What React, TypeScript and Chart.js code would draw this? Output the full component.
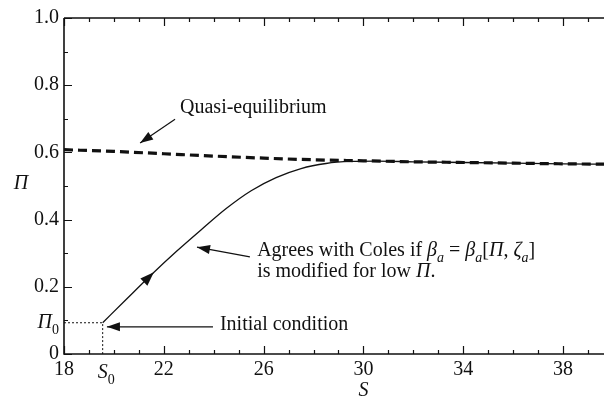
import React, { useEffect, useRef } from "react";
import { Chart, registerables } from "chart.js";

Chart.register(...registerables);

// ---- data ----
const quasiS = [18, 20, 22, 24, 26, 28, 30, 32, 34, 36, 38, 39.64];
const quasiPi = [0.608, 0.603, 0.596, 0.589, 0.583, 0.578, 0.575, 0.572, 0.57, 0.568, 0.566, 0.565];

const devS = [19.55, 20.5, 21.5, 22.5, 23.5, 24.5, 25.5, 26.5, 27.5, 28.5, 29.5, 30.5, 32, 34, 36, 38, 39.64];
const devPi = [0.093, 0.163, 0.236, 0.305, 0.37, 0.433, 0.486, 0.525, 0.552, 0.567, 0.573, 0.574, 0.572, 0.57, 0.568, 0.566, 0.565];

const S0 = 19.55;
const PI0 = 0.093;

const xTickValues = [18, 19, 20, 21, 22, 23, 24, 25, 26, 27, 28, 29, 30, 31, 32, 33, 34, 35, 36, 37, 38, 39];
const xTickLabels = ["18", "22", "26", "30", "34", "38"];
const yTickValues = [0, 0.1, 0.2, 0.3, 0.4, 0.5, 0.6, 0.7, 0.8, 0.9, 1.0];
const yTickLabels = ["0", "0.2", "0.4", "0.6", "0.8", "1.0"];

const X_MIN = 18;
const X_MAX = 39.64;

const SERIF = '"Liberation Serif", "Times New Roman", serif';
const INK = "#111";

type Part = [string, string];

function drawRich(ctx: CanvasRenderingContext2D, x: number, y: number, parts: Part[], size: number, align: "left" | "right" = "left") {
  const sub = Math.round(size * 0.72);
  const fontFor = (st: string) => {
    const it = st.includes("i") ? "italic " : "";
    const sz = st.includes("s") ? sub : size;
    return `${it}${sz}px ${SERIF}`;
  };
  let total = 0;
  for (const [t, st] of parts) {
    ctx.font = fontFor(st);
    total += ctx.measureText(t).width;
  }
  let cx = align === "left" ? x : x - total;
  ctx.textAlign = "left";
  ctx.textBaseline = "alphabetic";
  for (const [t, st] of parts) {
    ctx.font = fontFor(st);
    const dy = st.includes("s") ? size * 0.3 : 0;
    ctx.fillText(t, cx, y + dy);
    cx += ctx.measureText(t).width;
  }
}

function arrowHead(ctx: CanvasRenderingContext2D, tx: number, ty: number, fx: number, fy: number, len = 13, half = 4.5) {
  const a = Math.atan2(ty - fy, tx - fx);
  ctx.beginPath();
  ctx.moveTo(tx, ty);
  ctx.lineTo(tx - len * Math.cos(a) + half * Math.sin(a), ty - len * Math.sin(a) - half * Math.cos(a));
  ctx.lineTo(tx - len * Math.cos(a) - half * Math.sin(a), ty - len * Math.sin(a) + half * Math.cos(a));
  ctx.closePath();
  ctx.fill();
}

function arrow(ctx: CanvasRenderingContext2D, x1: number, y1: number, x2: number, y2: number) {
  ctx.beginPath();
  ctx.moveTo(x1, y1);
  ctx.lineTo(x2, y2);
  ctx.lineWidth = 1.2;
  ctx.stroke();
  arrowHead(ctx, x2, y2, x1, y1);
}

const overlay = {
  id: "overlay",
  afterDatasetsDraw(chart: any) {
    const ctx: CanvasRenderingContext2D = chart.ctx;
    const xs = chart.scales.x;
    const ys = chart.scales.y;
    const ca = chart.chartArea;
    const X = (v: number) => xs.getPixelForValue(v);
    const Y = (v: number) => ys.getPixelForValue(v);
    ctx.save();
    ctx.strokeStyle = INK;
    ctx.fillStyle = INK;
    // axis lines
    ctx.lineWidth = 1.6;
    ctx.beginPath();
    ctx.moveTo(ca.left, ca.top);
    ctx.lineTo(ca.left, ca.bottom);
    ctx.lineTo(ca.right, ca.bottom);
    ctx.moveTo(ca.left, ca.top);
    ctx.lineTo(ca.right, ca.top);
    ctx.stroke();
    // ticks
    ctx.lineWidth = 1.2;
    ctx.beginPath();
    xs.ticks.forEach((t: any) => {
      const px = Math.round(X(t.value)) + 0.5;
      const major = Math.abs((t.value - 18) % 4) < 1e-6;
      const len = major ? 8 : 4;
      ctx.moveTo(px, ca.bottom);
      ctx.lineTo(px, ca.bottom - len);
      ctx.moveTo(px, ca.top);
      ctx.lineTo(px, ca.top + len);
    });
    ys.ticks.forEach((t: any, i: number) => {
      const py = Math.round(Y(t.value)) + 0.5;
      const len = i % 2 === 0 ? 8 : 4;
      ctx.moveTo(ca.left, py);
      ctx.lineTo(ca.left + len, py);
    });
    ctx.stroke();

    // curve direction arrowhead
    const tipS = 21.6;
    const tipPi = 0.243;
    arrowHead(ctx, X(tipS), Y(tipPi), X(S0), Y(PI0), 14, 5);

    // annotation arrows
    arrow(ctx, X(22.45), Y(0.699), X(21.05), Y(0.628));
    arrow(ctx, X(25.45), Y(0.289), X(23.33), Y(0.318));
    arrow(ctx, X(23.97), Y(0.081), X(19.72), Y(0.081));

    // annotation text
    const fs = 20;
    drawRich(ctx, X(22.65), Y(0.735) + 6, [["Quasi-equilibrium", "n"]], fs);
    drawRich(
      ctx,
      X(25.74),
      Y(0.31) + 6,
      [
        ["Agrees with Coles if ", "n"],
        ["β", "i"],
        ["a", "si"],
        [" = ", "n"],
        ["β", "i"],
        ["a", "si"],
        ["[", "n"],
        ["Π", "i"],
        [", ", "n"],
        ["ζ", "i"],
        ["a", "si"],
        ["]", "n"],
      ],
      fs
    );
    drawRich(ctx, X(25.74), Y(0.247) + 6, [["is modified for low ", "n"], ["Π", "i"], [".", "n"]], fs);
    drawRich(ctx, X(24.25), Y(0.089) + 6, [["Initial condition", "n"]], fs);

    // special tick labels
    drawRich(ctx, ca.left - 5, Y(PI0) + 5, [["Π", "i"], ["0", "s"]], fs, "right");
    drawRich(ctx, X(S0) - 5, ca.bottom + 24, [["S", "i"], ["0", "s"]], fs);

    // axis titles
    ctx.font = `italic ${fs}px ${SERIF}`;
    ctx.textAlign = "center";
    ctx.textBaseline = "middle";
    ctx.fillText("Π", 21, Y(0.506));
    ctx.fillText("S", X(30), 391);
    ctx.restore();
  },
};

export default function App() {
  const ref = useRef<HTMLCanvasElement>(null);
  useEffect(() => {
    if (!ref.current) return;
    const chart = new Chart(ref.current, {
      type: "line",
      data: {
        datasets: [
          {
            label: "Quasi-equilibrium",
            data: quasiS.map((s, i) => ({ x: s, y: quasiPi[i] })),
            borderColor: INK,
            borderWidth: 3.2,
            borderDash: [9, 5],
            pointRadius: 0,
            cubicInterpolationMode: "monotone",
            fill: false,
          },
          {
            label: "Development",
            data: devS.map((s, i) => ({ x: s, y: devPi[i] })),
            borderColor: INK,
            borderWidth: 1.3,
            pointRadius: 0,
            cubicInterpolationMode: "monotone",
            fill: false,
          },
          {
            label: "Initial",
            data: [
              { x: X_MIN, y: PI0 },
              { x: S0, y: PI0 },
              { x: S0, y: 0 },
            ],
            borderColor: INK,
            borderWidth: 1,
            borderDash: [2, 2],
            pointRadius: 0,
            tension: 0,
            fill: false,
          },
        ],
      },
      options: {
        animation: false,
        responsive: false,
        events: [],
        layout: { padding: { top: 18, left: 0, right: 0, bottom: 0 } },
        plugins: { legend: { display: false }, tooltip: { enabled: false }, title: { display: false } },
        scales: {
          x: {
            type: "linear",
            min: X_MIN,
            max: X_MAX,
            afterBuildTicks: (s: any) => {
              s.ticks = xTickValues.map((v) => ({ value: v }));
            },
            afterFit: (s: any) => {
              s.height = 48;
            },
            grid: { display: false, drawTicks: false },
            border: { display: false },
            ticks: {
              autoSkip: false,
              maxRotation: 0,
              padding: 4,
              color: INK,
              font: { family: SERIF, size: 20 },
              callback: (v: any) => {
                const s = String(v);
                return xTickLabels.includes(s) ? s : "";
              },
            },
          },
          y: {
            type: "linear",
            min: 0,
            max: 1,
            afterBuildTicks: (s: any) => {
              s.ticks = yTickValues.map((v) => ({ value: v }));
            },
            afterFit: (s: any) => {
              s.width = 64;
            },
            grid: { display: false, drawTicks: false },
            border: { display: false },
            ticks: {
              autoSkip: false,
              padding: 5,
              color: INK,
              font: { family: SERIF, size: 20 },
              callback: (v: any, i: number) => (i % 2 === 0 ? yTickLabels[i / 2] : ""),
            },
          },
        },
      },
      plugins: [overlay],
    } as any);
    return () => chart.destroy();
  }, []);
  return (
    <div style={{ position: "fixed", left: 0, top: 0, width: 604, height: 402, background: "#fff" }}>
      <canvas ref={ref} width={604} height={402} style={{ width: 604, height: 402 }} />
    </div>
  );
}
